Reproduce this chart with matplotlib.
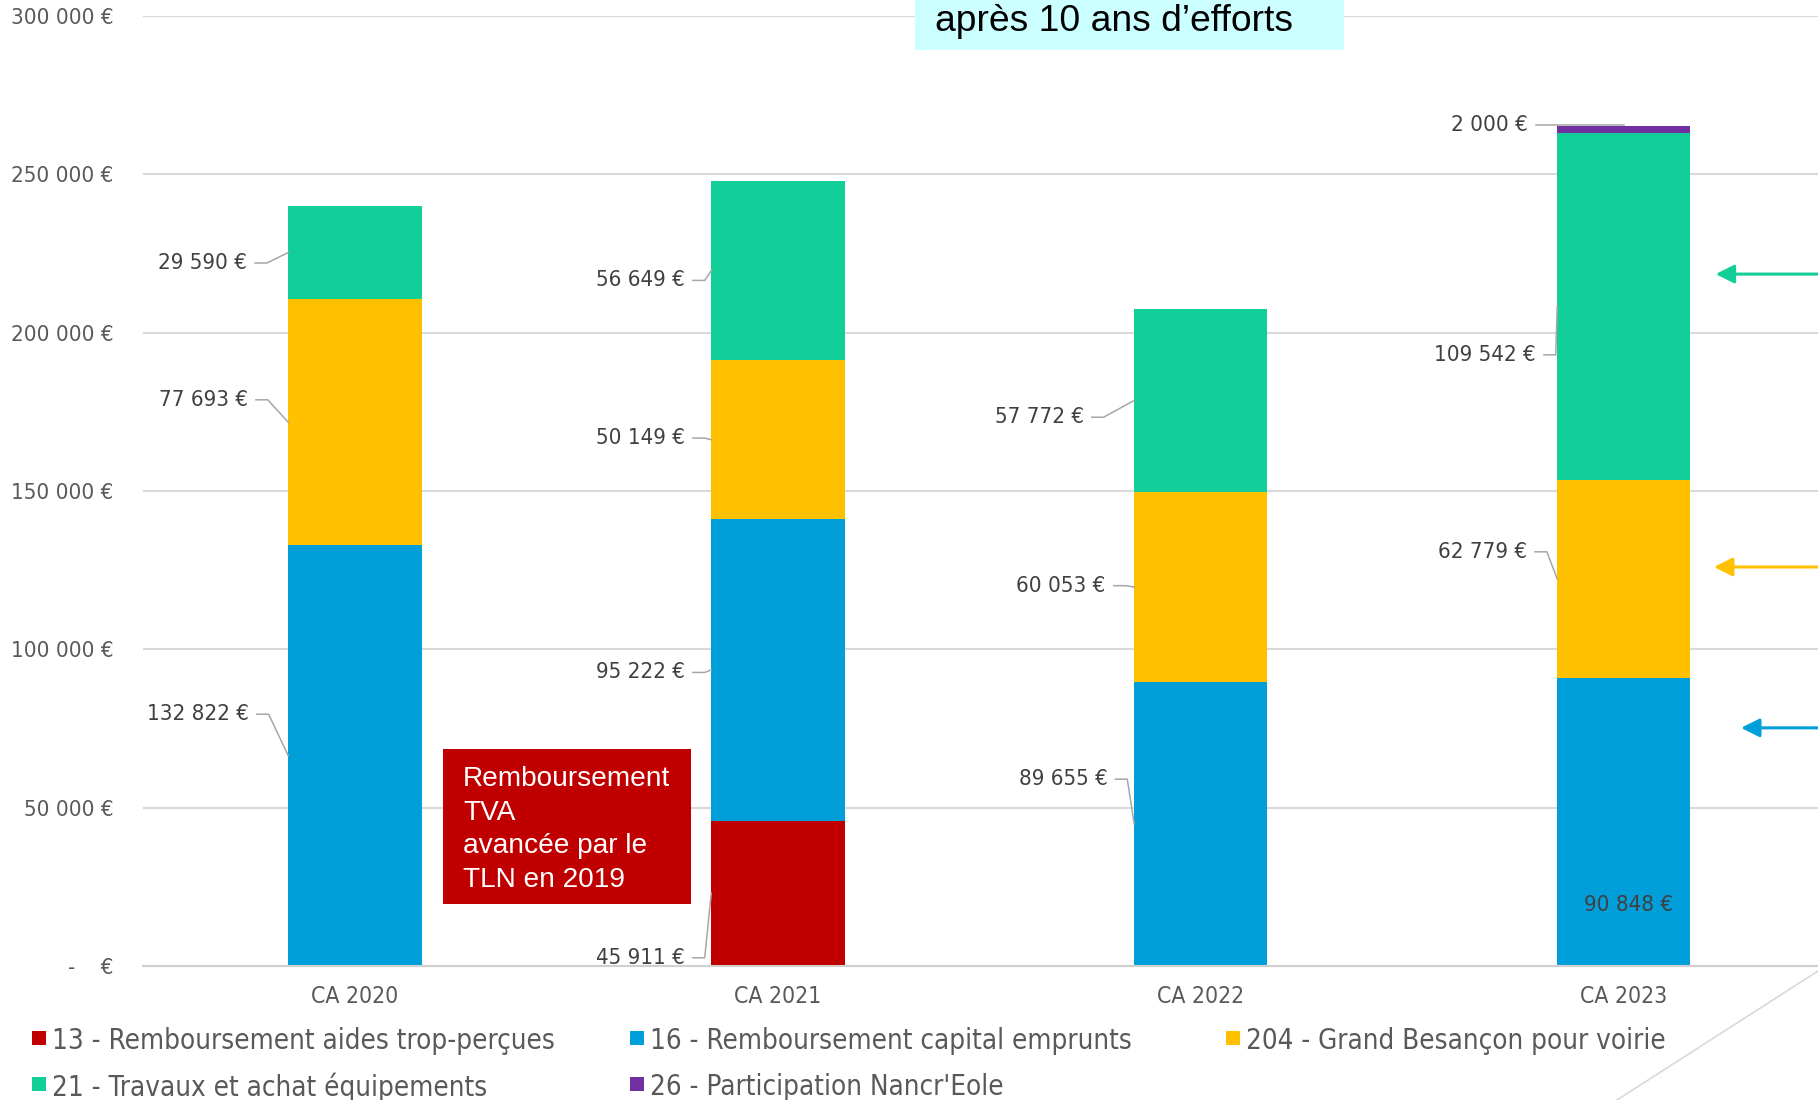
import matplotlib
matplotlib.use("Agg")
import matplotlib.pyplot as plt
import numpy as np
from matplotlib.patches import Rectangle
from matplotlib.lines import Line2D

W, H = 1818, 1100

categories = ['CA 2020', 'CA 2021', 'CA 2022', 'CA 2023']
series_names = ['13 - Remboursement aides trop-perçues',
                '16 - Remboursement capital emprunts',
                '204 - Grand Besançon pour voirie',
                '21 - Travaux et achat équipements',
                "26 - Participation Nancr'Eole"]
colors = ['#C00000', '#009FDA', '#FFC000', '#12CF9A', '#7030A0']

remb_aides = [0, 45911, 0, 0]
capital = [132822, 95222, 89655, 90848]
voirie = [77693, 50149, 60053, 62779]
travaux = [29590, 56649, 57772, 109542]
nancreole = [0, 0, 0, 2000]
series = [remb_aides, capital, voirie, travaux, nancreole]

yticks = [0, 50000, 100000, 150000, 200000, 250000, 300000]

# label placement: (category, series, x of right edge rel. to category, y)
label_layout = [
    (0, 3, -0.255, 222000), (0, 2, -0.253, 178800), (0, 1, -0.251, 79500),
    (1, 3, -0.220, 216500), (1, 2, -0.220, 166700), (1, 1, -0.220, 92700),
    (1, 0, -0.220, 2600),
    (2, 3, -0.277, 173300), (2, 2, -0.225, 120100), (2, 1, -0.221, 59000),
    (3, 4, -0.227, 265600), (3, 3, -0.208, 193000), (3, 2, -0.229, 130800),
]
inside_label = (3, 1, 0.01, 19300)

plt.rcParams['font.family'] = ['DejaVu Sans']
plt.rcParams['font.stretch'] = 'condensed'


def eur(v):
    return f'{v:,}'.replace(',', ' ') + ' €'


def fx(px):
    return px / W


def fy(py):
    return 1 - py / H


fig = plt.figure(figsize=(W / 100, H / 100), dpi=100)
ax = fig.add_axes([fx(143), fy(966), fx(1818) - fx(143), fy(16) - fy(966)])

x = np.arange(len(categories))
width = 0.315
bottoms = np.zeros(len(categories))
mids = []
for vals, col in zip(series, colors):
    vals = np.array(vals, dtype=float)
    ax.bar(x, vals, width, bottom=bottoms, color=col, zorder=2)
    mids.append(bottoms + vals / 2)
    bottoms = bottoms + vals

ax.set_xlim(-0.501, 3.459)
ax.set_ylim(0, 300000)
ax.set_yticks(yticks)
ax.set_yticklabels(['-    €'] + [eur(v) for v in yticks[1:]])
ax.set_xticks(x)
ax.set_xticklabels(categories)
ax.tick_params(axis='y', length=0, pad=21, labelsize=16, labelcolor='#595959')
ax.tick_params(axis='x', length=0, pad=14, labelsize=16.5, labelcolor='#595959')
ax.yaxis.grid(True, color='#D9D9D9', lw=1.5)
ax.set_axisbelow(True)
for s in ['top', 'left', 'right']:
    ax.spines[s].set_visible(False)
ax.spines['bottom'].set_color('#D0D0D0')
ax.spines['bottom'].set_linewidth(1.5)

# data labels with leader lines
gap, run = 0.019, 0.028
for ci, si, dx, ly in label_layout:
    lx = x[ci] + dx
    val = series[si][ci]
    ax.text(lx, ly, eur(val), ha='right', va='center', fontsize=16,
            color='#404040', zorder=4)
    mid = mids[si][ci]
    if si == 4:
        pts = [(lx + gap, ly), (x[ci], ly)]
    else:
        pts = [(lx + gap, ly), (lx + gap + run, ly), (x[ci] - width / 2, mid)]
    ax.plot(*zip(*pts), color='#A6A6A6', lw=1.1, zorder=3)

ci, si, dx, ly = inside_label
ax.text(x[ci] + dx, ly, eur(series[si][ci]), ha='center', va='center',
        fontsize=16, color='#404040', zorder=4)

# arrows on the right
for ytip, xtip, col in [(218500, 3.217, colors[3]), (126000, 3.213, colors[2]),
                        (75200, 3.277, colors[1])]:
    ax.annotate('', xy=(xtip, ytip), xytext=(3.55, ytip), annotation_clip=False,
                arrowprops=dict(arrowstyle='-|>', color=col, lw=2.2,
                                mutation_scale=28, shrinkA=0, shrinkB=0))

# title box (cut at the top)
fig.add_artist(Rectangle((fx(915), fy(50)), fx(1344) - fx(915), fy(0) - fy(50),
                         transform=fig.transFigure, facecolor='#CCFFFF',
                         edgecolor='none', zorder=5))
fig.text(fx(935), fy(31), 'après 10 ans d’efforts', family='Liberation Sans',
         stretch='normal', fontsize=26.8, color='black', va='baseline', zorder=6)

# red note box
fig.add_artist(Rectangle((fx(443), fy(904)), fx(691) - fx(443), fy(749) - fy(904),
                         transform=fig.transFigure, facecolor='#C00000',
                         edgecolor='none', zorder=5))
for line, base in zip(['Remboursement', 'TVA', 'avancée par le', 'TLN en 2019'],
                      [786, 820, 853, 887]):
    fig.text(fx(463), fy(base), line, family='Liberation Sans', stretch='normal',
             fontsize=20.2, color='white', va='baseline', zorder=6)

# legend
legend_pos = [(32, 1038), (630, 1038), (1226, 1038), (32, 1084), (630, 1084)]
for (px, py), name, col in zip(legend_pos, series_names, colors):
    fig.add_artist(Rectangle((fx(px), fy(py + 7)), 14 / W, 14 / H,
                             transform=fig.transFigure, facecolor=col,
                             edgecolor='none'))
    fig.text(fx(px + 20), fy(py), name, fontsize=19.9, color='#595959',
             va='center_baseline', ha='left')

# decorative diagonal line bottom right
fig.add_artist(Line2D([fx(1818), fx(1617)], [fy(971), fy(1100)],
                      transform=fig.transFigure, color='#D9D9D9', lw=1.2))

fig.savefig('out.png', dpi=100)
